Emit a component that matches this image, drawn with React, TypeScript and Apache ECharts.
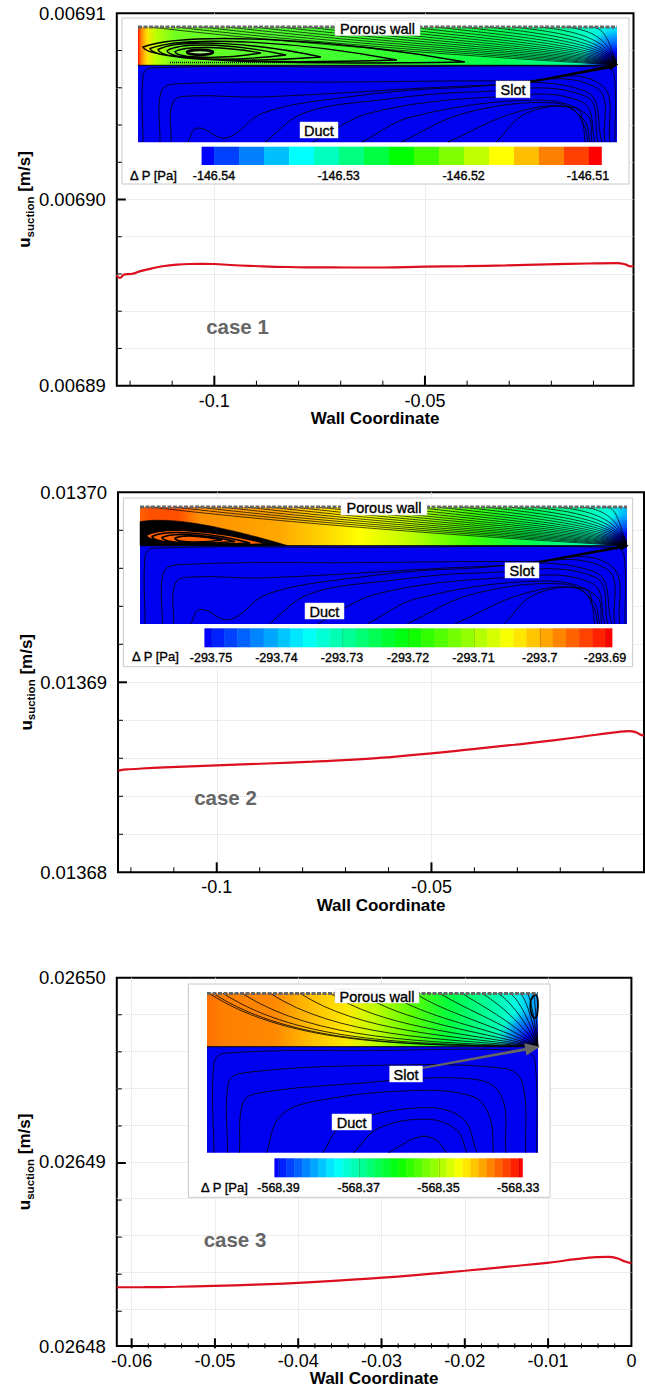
import React, { useEffect, useRef } from "react";
import * as echarts from "echarts";

const FONT = "Liberation Sans";

// ---------- chart data ----------
const case1X = [-0.12315,-0.12246,-0.12129,-0.11982,-0.11768,-0.11475,-0.11182,-0.10889,-0.10596,-0.10303,-0.1,-0.09619,-0.09033,-0.08252,-0.07666,-0.06787,-0.06006,-0.05,-0.04053,-0.03076,-0.021,-0.01123,-0.00439,-0.00244,-0.00127,-0.0005];
const case1Y = [0.006895929,0.006895786,0.006895982,0.006896,0.006896143,0.006896304,0.006896429,0.0068965,0.006896536,0.006896545,0.006896536,0.006896482,0.006896429,0.006896375,0.006896357,0.006896348,0.006896348,0.006896393,0.00689642,0.006896464,0.006896518,0.006896563,0.00689658,0.006896518,0.006896411,0.006896429];
const case2X = [-0.12289,-0.12174,-0.12031,-0.11217,-0.1,-0.08822,-0.07768,-0.0681,-0.05948,-0.05,-0.04033,-0.03074,-0.02116,-0.01158,-0.00679,-0.00392,-0.00248,-0.00105,-0.0005];
const case2Y = [0.01368535,0.013685402,0.013685425,0.013685524,0.013685629,0.013685726,0.013685822,0.013685927,0.013686066,0.013686259,0.013686486,0.013686713,0.013686958,0.013687238,0.013687378,0.01368743,0.013687378,0.01368722,0.013687203];
const case3X = [-0.06178,-0.05852,-0.05457,-0.05012,-0.04519,-0.04,-0.03482,-0.02988,-0.02494,-0.02,-0.01506,-0.01012,-0.00667,-0.0042,-0.00272,-0.00173,-0.00074,0];
const case3Y = [0.02648319,0.026483195,0.026483217,0.026483262,0.026483333,0.026483423,0.026483566,0.02648371,0.026483889,0.026484086,0.026484301,0.026484516,0.026484713,0.026484821,0.026484839,0.026484767,0.026484588,0.026484498];

const case1YMajor = [0.00689, 0.0069, 0.00691];
const case1YMinor = [0.006892, 0.006894, 0.006896, 0.006898, 0.006902, 0.006904, 0.006906, 0.006908];
const case2YMajor = [0.01368, 0.01369, 0.0137];
const case2YMinor = [0.013682, 0.013684, 0.013686, 0.013688, 0.013692, 0.013694, 0.013696, 0.013698];
const case3YMajor = [0.02648, 0.02649, 0.0265];
const case3YMinor = [0.026482, 0.026484, 0.026486, 0.026488, 0.026492, 0.026494, 0.026496, 0.026498];
const longXMajor = [-0.1, -0.05];
const longXMinor = [-0.12, -0.11, -0.09, -0.08, -0.07, -0.06, -0.04, -0.03, -0.02, -0.01];
const shortXMajor = [-0.06, -0.05, -0.04, -0.03, -0.02, -0.01, 0];
const shortXMinor = [-0.058,-0.056,-0.054,-0.052,-0.048,-0.046,-0.044,-0.042,-0.038,-0.036,-0.034,-0.032,-0.028,-0.026,-0.024,-0.022,-0.018,-0.016,-0.014,-0.012,-0.008,-0.006,-0.004,-0.002];

const colorbar1Ticks = ["-146.54", "-146.53", "-146.52", "-146.51"];
const colorbar2Ticks = ["-293.75", "-293.74", "-293.73", "-293.72", "-293.71", "-293.7", "-293.69"];
const colorbar3Ticks = ["-568.39", "-568.37", "-568.35", "-568.33"];

// ---------- inset drawing helpers ----------
type P = [number, number];
const spline = (pts: P[]) => {
  let d = `M${pts[0][0].toFixed(1)} ${pts[0][1].toFixed(1)}`;
  for (let i = 0; i < pts.length - 1; i++) {
    const p0 = pts[Math.max(i - 1, 0)], p1 = pts[i], p2 = pts[i + 1], p3 = pts[Math.min(i + 2, pts.length - 1)];
    const len = Math.hypot(p2[0] - p1[0], p2[1] - p1[1]);
    const a = Math.hypot(p2[0] - p0[0], p2[1] - p0[1]) || 1, b = Math.hypot(p3[0] - p1[0], p3[1] - p1[1]) || 1;
    const c1: P = [p1[0] + ((p2[0] - p0[0]) / a) * len * 0.36, p1[1] + ((p2[1] - p0[1]) / a) * len * 0.36];
    const c2: P = [p2[0] - ((p3[0] - p1[0]) / b) * len * 0.36, p2[1] - ((p3[1] - p1[1]) / b) * len * 0.36];
    d += `C${c1[0].toFixed(1)} ${c1[1].toFixed(1)} ${c2[0].toFixed(1)} ${c2[1].toFixed(1)} ${p2[0].toFixed(1)} ${p2[1].toFixed(1)}`;
  }
  return d;
};
const tear = (lx: number, tx: number, ty: number, top: number, bot: number) => {
  const w = tx - lx, mid = (top + bot) / 2;
  return `M${tx} ${ty}C${tx - 0.4 * w} ${ty - (ty - top) * 0.75} ${lx + 0.14 * w} ${top} ${lx} ${mid}C${lx + 0.02 * w} ${bot + 1} ${tx - 0.4 * w} ${bot + 1} ${tx} ${ty}Z`;
};
const fan = (starts: number[], x1: number, top: number, mid: number, x0: number, k: number, e: number) => {
  const W = x1 - x0, h = mid - top;
  return starts.map((s) => {
    const w = x1 - s, f = w / W;
    return `M${s} ${top}C${(s + 0.25 * w).toFixed(1)} ${(top + k * h * f).toFixed(1)} ${(s + 0.62 * w).toFixed(1)} ${(top + h * (e + (0.97 - e) * f)).toFixed(1)} ${x1} ${mid}`;
  }).join("");
};
// streamlines that run almost parallel and bend into the slot only at the far end
const flatFan = (starts: number[], x1: number, top: number, mid: number, x0: number) => {
  const W = x1 - x0, h = mid - top;
  return starts.map((s) => {
    const w = x1 - s, f = w / W;
    return `M${s} ${top}C${(s + 0.4 * w).toFixed(1)} ${(top + h * 0.6 * f).toFixed(1)} ${(x1 - 0.06 * W * Math.max(f, 0.35)).toFixed(1)} ${(top + h * (0.12 + 0.85 * f)).toFixed(1)} ${x1} ${mid}`;
  }).join("");
};
const ductBase: P[][] = [
  [[143,142],[143,76],[150,68],[350,67],[605,67],[614,74],[615,142]],
  [[160,142],[161,92],[175,84],[350,82],[520,81],[600,84],[610,142]],
  [[171,142],[173,102],[190,96],[260,97],[494,85],[595,87],[605,142]],
  [[188,142],[197,128],[226,138],[263,113],[340,98],[452,88],[585,91],[602,142]],
  [[265,142],[304,113],[380,100],[473,92],[585,96],[598,142]],
  [[313,142],[370,113],[494,97],[582,102],[595,142]],
  [[362,142],[411,117],[535,100],[586,114],[592,142]],
  [[401,142],[465,113],[555,103],[584,120],[590,142]],
  [[448,142],[514,113],[568,107],[584,125],[588,142]],
  [[496,142],[527,113],[576,108],[583,125],[585,142]],
];
const ductMapped = (x0: number, x1: number, mid: number, bot: number) =>
  ductBase.map((line) => spline(line.map(([x, y]) => [x0 + ((x - 138) / 479) * (x1 - x0), mid + ((y - 65.3) / 77) * (bot - mid)] as P))).join("");
const z3 = (x: number, y: number): P => [x / 2.431, 960 + y / 3];
const duct3Z: P[][] = [
  [[520,578],[520,310],[545,280],[900,272],[1275,272],[1300,300],[1305,578]],
  [[553,578],[555,370],[585,340],[880,317],[1225,325],[1270,370],[1278,578]],
  [[582,578],[590,430],[625,400],[850,372],[1130,355],[1215,400],[1230,578]],
  [[648,578],[680,470],[760,425],[1000,392],[1150,410],[1190,470],[1200,578]],
  [[785,578],[830,500],[1000,445],[1120,470],[1160,578]],
  [[860,578],[920,505],[1040,478],[1110,510],[1135,578]],
  [[945,578],[1020,530],[1060,540],[1085,578]],
];
const range = (a: number, b: number, s: number) => { const r: number[] = []; for (let v = a; v <= b; v += s) r.push(v); return r; };

echarts.graphic.registerShape("upper1", echarts.graphic.extendPath(flatFan(range(150, 612, 26), 617, 27, 65, 138), {}));
echarts.graphic.registerShape("eye1", echarts.graphic.extendPath(
  tear(175, 261, 53, 45, 58) + tear(167, 286, 55, 41, 60) + tear(158, 321, 57, 38, 61) + tear(150, 397, 60, 35, 62) + tear(143, 465, 62, 31, 63), {}));
echarts.graphic.registerShape("duct1", echarts.graphic.extendPath(ductMapped(138, 617, 65.3, 142.3), {}));
echarts.graphic.registerShape("upper2", echarts.graphic.extendPath(flatFan(range(150, 622, 24), 627, 507, 545.7, 140), {}));
echarts.graphic.registerShape("eyeBlack2", echarts.graphic.extendPath(
  "M140 545.7L140 521.5C170 517 215 524 288 545.7Z", {}));
echarts.graphic.registerShape("eye2", echarts.graphic.extendPath(
  tear(146, 268, 544, 526, 544.5) + tear(152, 250, 543, 529, 544) + tear(162, 235, 541.5, 532, 543) + tear(175, 222, 540, 534.5, 542), {}));
echarts.graphic.registerShape("duct2", echarts.graphic.extendPath(ductMapped(140, 627, 545.7, 624), {}));
echarts.graphic.registerShape("upper3", echarts.graphic.extendPath(
  fan([209, 213, 223, 242, 270, 300, 330, 360, 388, 415, 440, 462, 482, 498, 510, 520, 527, 533], 538, 993.3, 1046.7, 207, 1.0, 0.35), {}));
echarts.graphic.registerShape("duct3", echarts.graphic.extendPath(duct3Z.map((l) => spline(l.map(([x, y]) => z3(x, y)))).join(""), {}));
echarts.graphic.registerShape("eye3", echarts.graphic.extendPath(
  spline([[535, 994], [531, 1000], [531, 1012], [535, 1018], [537.5, 1012], [537.5, 998], [535, 994]]), {}));

const stops = (x0: number, x1: number, s: [number, string][]) =>
  s.map(([px, color]) => ({ offset: (px - x0) / (x1 - x0), color }));
const hGrad = (x0: number, x1: number, s: [number, string][]) => ({ type: "linear", x: 0, y: 0, x2: 1, y2: 0, colorStops: stops(x0, x1, s) });
const jet = (t: number) => {
  const c: number[][] = [[0,0,255],[0,255,255],[0,255,0],[255,255,0],[255,0,0]];
  const v = Math.min(t, 0.99999) * 4, i = Math.floor(v), f = v - i;
  const m = c[i].map((a, k) => Math.round(a + (c[i + 1][k] - a) * f));
  return `rgb(${m[0]},${m[1]},${m[2]})`;
};
const txt = (text: string, x: number, y: number, fontSize: number, extra: any = {}) => ({
  type: "text", z: 12, silent: true,
  style: { text, x, y, fontSize, fontFamily: FONT, fill: "#000", align: "center", verticalAlign: "middle", ...extra },
});
const labelBox = (text: string, x0: number, x1: number, y0: number, y1: number, fs: number) => [
  { type: "rect", z: 11, silent: true, shape: { x: x0, y: y0, width: x1 - x0, height: y1 - y0 }, style: { fill: "#fff", stroke: "#ddd", lineWidth: 0.5 } },
  txt(text, (x0 + x1) / 2, (y0 + y1) / 2 + 0.5, fs, { stroke: "#000", lineWidth: 0.35 }),
];
const shape = (type: string, style: any, z = 10) => ({ type, x: 0, y: 0, z, silent: true, style: { fill: "none", stroke: "#000", lineWidth: 0.8, ...style } });
const arrow = (tx: number, ty: number, hx: number, hy: number, color: string, width: number, head: number) => {
  const dx = hx - tx, dy = hy - ty, l = Math.hypot(dx, dy), ux = dx / l, uy = dy / l, nx = -uy, ny = ux;
  const bx = hx - ux * head, by = hy - uy * head;
  return [
    { type: "polygon", z: 10, silent: true, shape: { points: [[tx + nx * width * 0.6, ty + ny * width * 0.6], [bx + nx * width, by + ny * width], [bx + nx * head * 0.42, by + ny * head * 0.42], [hx, hy], [bx - nx * head * 0.42, by - ny * head * 0.42], [bx - nx * width, by - ny * width], [tx - nx * width * 0.6, ty - ny * width * 0.6]] }, style: { fill: color } },
  ];
};
const colorbar = (x0: number, x1: number, y0: number, y1: number, n: number, ticks: string[], tickXs: number[], labelY: number, marks: boolean) => {
  const out: any[] = [];
  const step = (x1 - x0) / n;
  for (let i = 0; i <= n; i++) {
    const a = Math.max(x0, x0 + (i - 0.5) * step), b = Math.min(x1, x0 + (i + 0.5) * step);
    out.push({ type: "rect", z: 10, silent: true, shape: { x: a, y: y0, width: b - a + 0.4, height: y1 - y0 }, style: { fill: jet(i / n) } });
  }
  ticks.forEach((t, i) => {
    out.push(txt(t, tickXs[i], labelY, 12.5, { stroke: "#000", lineWidth: 0.35 }));
    if (marks) out.push({ type: "rect", z: 10, silent: true, shape: { x: tickXs[i] + 0.6, y: y0, width: 0.5, height: y1 - y0 }, style: { fill: "rgba(0,0,0,0.3)" } });
  });
  return out;
};
const porous = (x0: number, x1: number, y: number) => ({ type: "line", z: 10, silent: true, shape: { x1: x0, y1: y, x2: x1, y2: y }, style: { stroke: "#666", lineWidth: 3, lineDash: [4, 1.5] } });
const box = (x0: number, x1: number, y0: number, y1: number) => ({ type: "rect", z: 9, silent: true, shape: { x: x0, y: y0, width: x1 - x0, height: y1 - y0 }, style: { fill: "#fff", stroke: "#c8c8c8", lineWidth: 1 } });
const rect = (x0: number, x1: number, y0: number, y1: number, fill: any) => ({ type: "rect", z: 10, silent: true, shape: { x: x0, y: y0, width: x1 - x0, height: y1 - y0 }, style: { fill } });
const sink = (x0: number, x1: number, y0: number, y1: number, r: number) => rect(x0, x1, y0, y1, {
  type: "radial", x: x1, y: y1, r, global: true,
  colorStops: [{ offset: 0, color: "rgba(0,0,60,1)" }, { offset: 0.35, color: "rgba(0,0,255,1)" }, { offset: 0.75, color: "rgba(0,90,255,0.55)" }, { offset: 1, color: "rgba(0,160,255,0)" }],
});

const inset1 = (): any[] => [
  box(122, 629, 18, 184),
  rect(138, 617, 27, 65.3, hGrad(138, 617, [[138,"#ff1000"],[141,"#ff8000"],[147,"#ffe000"],[155,"#c0ff00"],[175,"#70ff20"],[280,"#50ff30"],[400,"#30ff30"],[500,"#00ff50"],[560,"#00ff90"],[590,"#00ffd0"],[617,"#00e0ff"]])),
  sink(575, 617, 27, 65.3, 38),
  rect(138, 617, 65.3, 142.3, "#0000f0"),
  shape("upper1", { lineWidth: 0.7 }),
  shape("eye1", { lineWidth: 1.4 }),
  { type: "ellipse", z: 10, silent: true, shape: { cx: 200, cy: 52.3, rx: 13, ry: 2.4 }, style: { fill: "#b0ff90", stroke: "#000", lineWidth: 2.6 } },
  { type: "line", z: 10, silent: true, shape: { x1: 170, y1: 62.5, x2: 320, y2: 62.5 }, style: { stroke: "#000", lineWidth: 1.4, lineDash: [1, 1] } },
  { type: "line", z: 10, silent: true, shape: { x1: 138, y1: 65.3, x2: 617, y2: 65.3 }, style: { stroke: "#000", lineWidth: 1 } },
  shape("duct1", { lineWidth: 0.8 }),
  porous(138, 617, 27),
  ...arrow(530, 82, 617, 65.5, "#000", 1.5, 8),
  ...labelBox("Porous wall", 335, 420, 20.5, 35.5, 14.5),
  ...labelBox("Slot", 496, 530, 81, 97.7, 14.5),
  ...labelBox("Duct", 300, 338, 122, 138, 14.5),
  ...colorbar(201.6, 601.4, 146.7, 165, 16, colorbar1Ticks, [214, 338.6, 463.6, 588], 175.7, false),
  txt("Δ P [Pa]", 153.5, 175.3, 13, { stroke: "#000", lineWidth: 0.35 }),
];
const inset2 = (): any[] => [
  box(123.4, 632.7, 498, 666.7),
  rect(140, 627, 507, 545.7, hGrad(140, 627, [[140,"#ff6000"],[150,"#ff5000"],[178,"#ff5000"],[200,"#ff9000"],[280,"#ffa800"],[320,"#ffd000"],[360,"#ffff00"],[410,"#c0ff00"],[470,"#40ff00"],[530,"#00ff50"],[580,"#00ffa0"],[610,"#00ffe0"],[627,"#00b0ff"]])),
  sink(590, 627, 507, 545.7, 34),
  rect(140, 627, 545.7, 624, "#0000f0"),
  shape("upper2", { lineWidth: 0.7 }),
  shape("eyeBlack2", { fill: "#000", stroke: "#000", lineWidth: 0.5 }),
  shape("eye2", { lineWidth: 1.6, fill: "#ff6000" }),
  { type: "line", z: 10, silent: true, shape: { x1: 140, y1: 545.7, x2: 627, y2: 545.7 }, style: { stroke: "#000", lineWidth: 1 } },
  shape("duct2", { lineWidth: 0.8 }),
  porous(140, 627, 507),
  ...arrow(539, 562, 628.5, 545.7, "#000", 1.5, 8),
  ...labelBox("Porous wall", 341, 427, 499, 515, 14.5),
  ...labelBox("Slot", 505, 539, 562.7, 578, 14.5),
  ...labelBox("Duct", 305, 344, 603, 619, 14.5),
  ...colorbar(204.4, 612, 628.3, 647.3, 31, colorbar2Ticks, [211, 276.4, 342, 408, 473.5, 539.7, 605], 658.3, true),
  txt("Δ P [Pa]", 155.5, 656.7, 13, { stroke: "#000", lineWidth: 0.35 }),
];
const inset3 = (): any[] => [
  box(188.4, 550, 984, 1197.3),
  rect(207, 538, 993.3, 1046.7, hGrad(207, 538, [[207,"#ff7000"],[225,"#ff8000"],[275,"#ff8800"],[300,"#ffb000"],[345,"#ffe800"],[375,"#c0ff00"],[410,"#60ff00"],[450,"#00ff40"],[490,"#00ffa0"],[515,"#00ffe0"],[530,"#00c0ff"],[538,"#0090ff"]])),
  sink(490, 538, 993.3, 1046.7, 42),
  rect(207, 538, 1046.7, 1152.7, "#0000f0"),
  shape("upper3", { lineWidth: 0.8 }),
  shape("eye3", { lineWidth: 1.8 }),
  { type: "line", z: 10, silent: true, shape: { x1: 207, y1: 1046.7, x2: 538, y2: 1046.7 }, style: { stroke: "#000", lineWidth: 1 } },
  shape("duct3", { lineWidth: 0.8 }),
  porous(207, 538, 993.5),
  ...arrow(422.5, 1068, 540, 1046.7, "#666", 1.5, 15),
  ...labelBox("Porous wall", 335, 419, 989, 1003, 14.5),
  ...labelBox("Slot", 389.6, 422.5, 1066, 1082, 14.5),
  ...labelBox("Duct", 332, 371.5, 1114, 1130, 14.5),
  ...colorbar(274.4, 522.4, 1158.3, 1177.3, 31, colorbar3Ticks, [278.5, 358.7, 438.5, 518.3], 1188.3, true),
  txt("Δ P [Pa]", 224.5, 1187, 13, { stroke: "#000", lineWidth: 0.35 }),
];

// ---------- option ----------
const panels = [
  { left: 116.8, right: 633.5, top: 13.3, bottom: 385.7, xGap: 24, xMin: -0.12315, xMax: -0.0005, yMin: 0.00689, yMax: 0.00691, xMajor: longXMajor, xMinor: longXMinor, yMajor: case1YMajor, yMinor: case1YMinor, xs: case1X, ys: case1Y },
  { left: 118, right: 644, top: 492.3, bottom: 872.3, xGap: 25, xMin: -0.123, xMax: -0.0005, yMin: 0.01368, yMax: 0.0137, xMajor: longXMajor, xMinor: longXMinor, yMajor: case2YMajor, yMinor: case2YMinor, xs: case2X, ys: case2Y },
  { left: 116.8, right: 631.4, top: 977.7, bottom: 1348.3, xGap: 24, xMin: -0.06178, xMax: 0, yMin: 0.02648, yMax: 0.0265, xMajor: shortXMajor, xMinor: shortXMinor, yMajor: case3YMajor, yMinor: case3YMinor, xs: case3X, ys: case3Y },
];
const W = 645, H = 1388;
const dotted = { show: true, lineStyle: { color: "#dcdcdc", type: "dotted", width: 1 } };
const hiddenLine = { show: false, onZero: false };

const tickLine = (x1: number, y1: number, x2: number, y2: number, lineWidth: number) => ({
  type: "line", z: 20, silent: true, shape: { x1, y1, x2, y2 }, style: { stroke: "#000", lineWidth },
});
const panelTicks = (p: any): any[] => {
  const px = (v: number) => p.left + ((v - p.xMin) / (p.xMax - p.xMin)) * (p.right - p.left);
  const py = (v: number) => p.bottom - ((v - p.yMin) / (p.yMax - p.yMin)) * (p.bottom - p.top);
  return [
    ...p.xMajor.filter((v: number) => v !== 0).map((v: number) => tickLine(px(v), p.bottom, px(v), p.bottom - 10, 2)),
    ...p.xMinor.map((v: number) => tickLine(px(v), p.bottom, px(v), p.bottom - 5, 1)),
    tickLine(p.left, py(p.yMajor[1]), p.left + 9, py(p.yMajor[1]), 2),
    ...p.yMinor.map((v: number) => tickLine(p.left, py(v), p.left + 5, py(v), 1)),
  ];
};

const buildOption = () => {
  const grid: any[] = [], xAxis: any[] = [], yAxis: any[] = [], series: any[] = [];
  panels.forEach((p, i) => {
    grid.push({ left: p.left, top: p.top, width: p.right - p.left, height: p.bottom - p.top, show: true, borderWidth: 2, borderColor: "#000", backgroundColor: "transparent", containLabel: false });
    xAxis.push({
      type: "value", gridIndex: i, min: p.xMin, max: p.xMax, position: "bottom",
      name: "Wall Coordinate", nameLocation: "middle", nameGap: p.xGap, nameMoveOverlap: false,
      nameTextStyle: { fontFamily: FONT, fontWeight: "bold", fontSize: 17, color: "#000" },
      axisLine: hiddenLine,
      axisTick: { show: false, customValues: p.xMajor.filter((v) => v !== 0) },
      axisLabel: { show: true, customValues: p.xMajor, margin: 6, fontFamily: FONT, fontSize: 18, color: "#000", hideOverlap: false, showMinLabel: true, showMaxLabel: true, formatter: (v: number) => String(+v.toFixed(3)) },
      splitLine: dotted,
    });
    yAxis.push({
      type: "value", gridIndex: i, min: p.yMin, max: p.yMax, position: "left",
      name: "{u|u}{s|suction}{u| [m/s]}", nameLocation: "middle", nameGap: 81, nameRotate: 90, nameMoveOverlap: false,
      nameTextStyle: { color: "#000", rich: {
        u: { fontFamily: FONT, fontWeight: "bold", fontSize: 17, lineHeight: 22, color: "#000" },
        s: { fontFamily: FONT, fontWeight: "bold", fontSize: 11.5, lineHeight: 22, color: "#000", verticalAlign: "bottom", padding: [5, 0, 0, 0] },
      } },
      axisLine: hiddenLine,
      axisTick: { show: false, customValues: [...p.yMinor, p.yMajor[1]] },
      axisLabel: { show: true, customValues: p.yMajor, margin: 11, fontFamily: FONT, fontSize: 18.5, color: "#000", hideOverlap: false, showMinLabel: true, showMaxLabel: true, formatter: (v: number) => v.toFixed(5) },
      splitLine: dotted,
    });
    series.push({
      type: "line", xAxisIndex: i, yAxisIndex: i, data: p.xs.map((x, k) => [x, p.ys[k]]),
      showSymbol: false, symbol: "none", smooth: 0.5, clip: false,
      lineStyle: { color: "#dc0f1e", width: 2.2 }, z: 5, silent: true,
    });
  });
  return {
    animation: false, backgroundColor: "#fff",
    grid, xAxis, yAxis, series,
    graphic: { elements: [
      ...inset1(), ...inset2(), ...inset3(),
      ...panels.flatMap(panelTicks),
      txt("case 1", 237.5, 326.5, 20.5, { fill: "#666", fontWeight: "bold" }),
      txt("case 2", 225.5, 797, 20.5, { fill: "#666", fontWeight: "bold" }),
      txt("case 3", 235, 1239, 20.5, { fill: "#666", fontWeight: "bold" }),
    ] },
  };
};

export default function App() {
  const ref = useRef<HTMLDivElement>(null);
  useEffect(() => {
    const chart = echarts.init(ref.current!, null, { renderer: "svg", width: W, height: H });
    chart.setOption(buildOption() as any);
    return () => chart.dispose();
  }, []);
  return <div ref={ref} style={{ position: "absolute", left: 0, top: 0, width: W, height: H, background: "#fff" }} />;
}
